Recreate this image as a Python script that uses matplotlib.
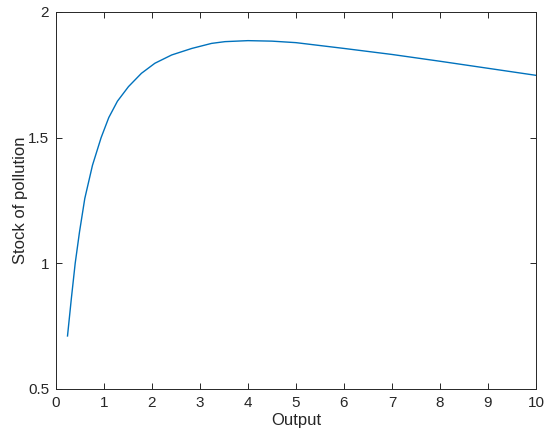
import matplotlib
matplotlib.use("Agg")
import matplotlib.pyplot as plt

# values
output = [0.24, 0.32, 0.40, 0.49, 0.60, 0.76, 0.94, 1.10, 1.28, 1.51, 1.78, 2.06,
          2.41, 2.83, 3.24, 3.52, 4.0, 4.5, 5.0, 6.0, 7.0, 8.0, 9.0, 10.0]
stock = [0.711, 0.860, 1.0, 1.125, 1.258, 1.390, 1.500, 1.580, 1.645, 1.703, 1.756, 1.796,
         1.829, 1.855, 1.875, 1.882, 1.886, 1.884, 1.878, 1.855, 1.831, 1.804, 1.776, 1.748]

xticks = list(range(0, 11))
yticks = [0.5, 1, 1.5, 2]
ylabels = ["0.5", "1", "1.5", "2"]

plt.rcParams['font.family'] = ['Liberation Sans', 'DejaVu Sans']

fig = plt.figure(figsize=(5.5, 4.44), dpi=100)
ax = fig.add_axes([0.1018, 0.1239, 0.8727, 0.8491])

ax.plot(output, stock, color='#0072BD', lw=1.0)

ax.set_xlim(0, 10)
ax.set_ylim(0.5, 2)
ax.set_xticks(xticks)
ax.set_yticks(yticks)
ax.set_yticklabels(ylabels)
ax.tick_params(direction='in', top=True, right=True, length=4, width=0.7,
               labelsize=11, colors='#262626', pad=5)
for s in ax.spines.values():
    s.set_color('#262626')
    s.set_linewidth(0.7)

ax.set_xlabel("Output", fontsize=12, color='#262626', labelpad=2)
ax.set_ylabel("Stock of pollution", fontsize=12, color='#262626', labelpad=0)

fig.savefig("out.png", dpi=100)
